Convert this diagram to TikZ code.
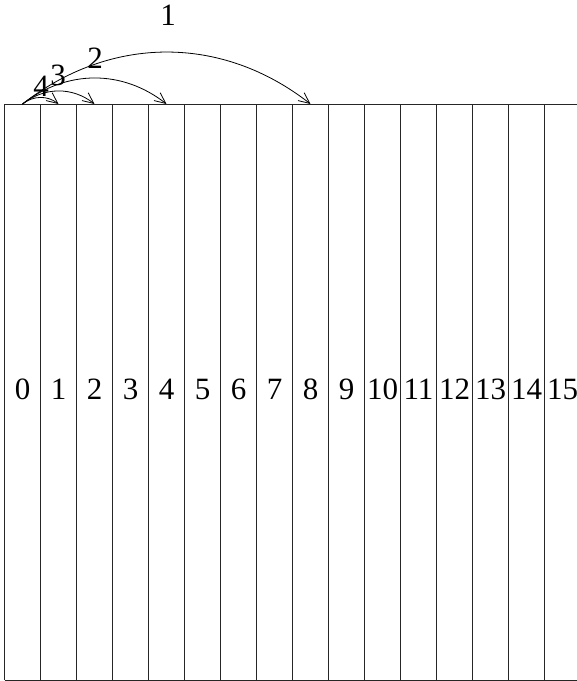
\documentclass[tikz,border=0pt]{standalone}
\usepackage{fontspec}
\setmainfont{Liberation Serif}
\usetikzlibrary{arrows.meta}
\begin{document}
\begin{tikzpicture}[x=1pt,y=-1pt,
  gridline/.style={line width=0.9pt,black!85},
  lbl/.style={font=\fontsize{31}{35}\selectfont,inner sep=0pt},
  hop/.style={line width=0.8pt,-{Straight Barb[length=11pt,width=10pt]},bend left=38}]
\useasboundingbox (0,0) rectangle (577,681);
% grid
\draw[gridline] (4.5,104) -- (577,104);
\draw[gridline] (4.5,680) -- (577,680);
\foreach \i in {0,...,15} {
  \draw[gridline] (4.5+36*\i,104) -- (4.5+36*\i,680);
  \node[lbl] (c\i) at (22.5+36*\i,389) {\i};
  \coordinate (t\i) at (22.5+36*\i,104);
}
% hops
\draw[hop] (t0) to (t8);
\draw[hop] (t0) to (t4);
\draw[hop] (t0) to (t2);
\draw[hop] (t0) to (t1);
% hop labels
\node[lbl] (l1) at (168,15) {1};
\node[lbl] (l2) at (95,58) {2};
\node[lbl] (l3) at (58,75) {3};
\node[lbl] (l4) at (41,86) {4};
\end{tikzpicture}
\end{document}
